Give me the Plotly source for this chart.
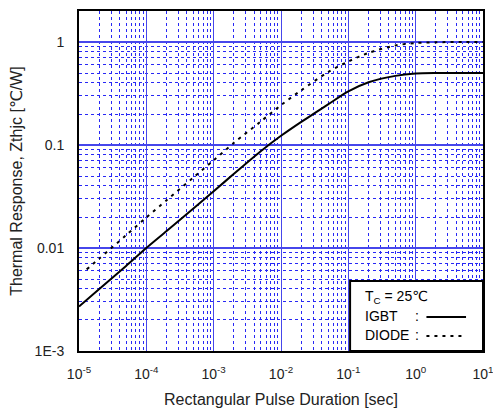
import plotly.graph_objects as go

# ---- data ----
igbt_t = [1e-5, 2e-5, 5e-5, 1e-4, 2e-4, 5e-4, 1e-3, 2e-3, 5e-3, 1e-2, 2e-2, 5e-2,
          1e-1, 2e-1, 5e-1, 1, 2, 5, 10]
igbt_z = [0.0027, 0.0040, 0.0067, 0.0100, 0.0146, 0.0242, 0.0356, 0.0525, 0.087, 0.123,
          0.168, 0.248, 0.332, 0.407, 0.469, 0.494, 0.50, 0.50, 0.50]

diode_t = [1.3e-5, 2e-5, 5e-5, 1e-4, 2e-4, 5e-4, 1e-3, 2e-3, 5e-3, 1e-2, 2e-2, 5e-2,
           1e-1, 2e-1, 5e-1, 1, 2, 5, 10]
diode_z = [0.0062, 0.0079, 0.0133, 0.0198, 0.0291, 0.0484, 0.071, 0.105, 0.169, 0.244,
           0.340, 0.51, 0.647, 0.785, 0.925, 0.977, 0.995, 1.0, 1.0]

x_tickvals = [1e-5, 1e-4, 1e-3, 1e-2, 1e-1, 1, 10]
x_ticktext = ["10<sup>-5</sup>", "10<sup>-4</sup>", "10<sup>-3</sup>", "10<sup>-2</sup>",
              "10<sup>-1</sup>", "10<sup>0</sup>", "10<sup>1</sup>"]
y_tickvals = [1e-3, 1e-2, 1e-1, 1]
y_ticktext = ["1E-3", "0.01", "0.1", "1"]

FONT = "Liberation Sans, Arial, DejaVu Sans, sans-serif"
MAJOR = "rgb(70,70,235)"
MINOR = "rgb(40,40,245)"

x_minor = [m * 10 ** e for e in range(-5, 1) for m in range(2, 10)]
y_minor = [m * 10 ** e for e in range(-3, 1) for m in range(2, 10)]

fig = go.Figure()
fig.add_trace(go.Scatter(x=igbt_t, y=igbt_z, mode="lines", name="IGBT",
                         line=dict(color="black", width=2, shape="spline", smoothing=0.8),
                         showlegend=False))
fig.add_trace(go.Scatter(x=diode_t, y=diode_z, mode="lines", name="DIODE",
                         line=dict(color="black", width=2, dash="3px,5px", shape="spline", smoothing=0.8),
                         showlegend=False))

# the page body adds an 8px margin, so the figure is sized to fit the 501x411 window
fig.update_layout(
    width=493, height=403,
    margin=dict(l=71, r=18, t=3, b=60),
    paper_bgcolor="white", plot_bgcolor="white",
    font=dict(family=FONT, size=14, color="#222"),
    xaxis=dict(
        type="log", range=[-5, 1], automargin=False,
        tickmode="array", tickvals=x_tickvals, ticktext=x_ticktext,
        ticks="", ticklabelstandoff=9,
        showgrid=True, gridcolor=MAJOR, gridwidth=1.2,
        minor=dict(tickmode="array", tickvals=x_minor, showgrid=True,
                   gridcolor=MINOR, griddash="dot", gridwidth=1),
        showline=True, linecolor="black", linewidth=2, mirror=True,
        zeroline=False,
        title=dict(text="Rectangular Pulse Duration [sec]", font=dict(size=16), standoff=13),
    ),
    yaxis=dict(
        type="log", range=[-3, 0.301], automargin=False,
        tickmode="array", tickvals=y_tickvals, ticktext=y_ticktext,
        ticks="", ticklabelstandoff=10,
        showgrid=True, gridcolor=MAJOR, gridwidth=2,
        minor=dict(tickmode="array", tickvals=y_minor, showgrid=True,
                   gridcolor=MINOR, griddash="dot", gridwidth=1),
        showline=True, linecolor="black", linewidth=2, mirror=True,
        zeroline=False,
        title=dict(text="Thermal Response, Zthjc [℃/W]", font=dict(size=16), standoff=10),
    ),
)

# legend box
fig.add_shape(type="rect", xref="paper", yref="paper", x0=0.671, x1=1.0, y0=0.0, y1=0.206,
              fillcolor="white", line=dict(color="black", width=2), layer="above")
fig.add_annotation(xref="paper", yref="paper", x=0.703, y=0.159, xanchor="left", yanchor="middle",
                   text="T<sub>C</sub> = 25℃", showarrow=False, font=dict(size=14, color="black"))
fig.add_annotation(xref="paper", yref="paper", x=0.703, y=0.103, xanchor="left", yanchor="middle",
                   text="IGBT", showarrow=False, font=dict(size=14, color="black"))
fig.add_annotation(xref="paper", yref="paper", x=0.703, y=0.047, xanchor="left", yanchor="middle",
                   text="DIODE", showarrow=False, font=dict(size=14, color="black"))
fig.add_annotation(xref="paper", yref="paper", x=0.836, y=0.103, xanchor="center", yanchor="middle",
                   text=":", showarrow=False, font=dict(size=14, color="black"))
fig.add_annotation(xref="paper", yref="paper", x=0.836, y=0.047, xanchor="center", yanchor="middle",
                   text=":", showarrow=False, font=dict(size=14, color="black"))
fig.add_shape(type="line", xref="paper", yref="paper", x0=0.860, x1=0.958, y0=0.100, y1=0.100,
              line=dict(color="black", width=2), layer="above")
fig.add_shape(type="line", xref="paper", yref="paper", x0=0.860, x1=0.952, y0=0.044, y1=0.044,
              line=dict(color="black", width=2, dash="3px,5px"), layer="above")

fig.write_html("out.html")
